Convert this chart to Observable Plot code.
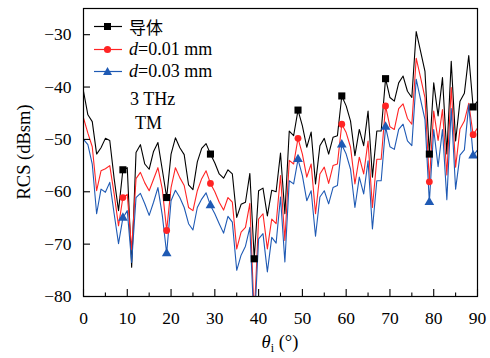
<!DOCTYPE html>
<html><head><meta charset="utf-8">
<script src="https://cdn.jsdelivr.net/npm/d3@7"></script>
<script src="https://cdn.jsdelivr.net/npm/@observablehq/plot@0.6"></script>
<style>
body{margin:0;background:#fff;}
#wrap{position:relative;width:490px;height:358px;font-family:"Liberation Serif","DejaVu Serif",serif;color:#000;}
.leg{position:absolute;left:94px;font-size:18px;line-height:21px;display:flex;align-items:center;white-space:nowrap;}
.leg svg{margin-right:7px;}
.note{position:absolute;font-size:18px;line-height:21px;white-space:nowrap;}
.ylab{position:absolute;left:24px;top:152px;transform:translate(-50%,-50%) rotate(-90deg);font-size:18.5px;white-space:nowrap;}
.xlab{position:absolute;left:280px;top:344px;transform:translate(-50%,-50%);font-size:18.5px;white-space:nowrap;}
</style></head><body><div id="wrap"></div>
<script>
const angles = d3.range(0, 91);
const conductor = [-40.8,-45.3,-46.6,-52.8,-51.6,-49.8,-50.2,-57.5,-63.6,-55.8,
  -55.4,-74.4,-52.5,-51.0,-54.7,-55.7,-52.3,-50.6,-55.8,-61.1,
  -52.8,-49.7,-51.6,-52.9,-58.7,-59.6,-54.3,-51.7,-50.8,-52.8,
  -54.5,-56.6,-57.4,-55.8,-56.6,-64.9,-62.4,-62.0,-56.5,-72.8,
  -59.8,-59.3,-64.6,-59.7,-60.0,-52.6,-64.2,-48.4,-49.3,-44.4,
  -47.4,-51.5,-48.6,-58.5,-51.2,-49.8,-52.8,-49.6,-49.3,-41.7,
  -43.6,-46.5,-53.1,-48.1,-51.2,-44.6,-57.2,-48.4,-48.4,-38.4,
  -42.0,-42.7,-39.2,-37.9,-40.8,-42.0,-29.4,-33.2,-37.0,-52.8,
  -39.2,-45.5,-38.2,-52.8,-35.1,-50.3,-42.7,-41.2,-34.0,-43.8,-42.7];
const d001 = [-45.9,-48.8,-51.4,-59.8,-56.0,-55.6,-55.0,-60.4,-66.5,-61.1,
  -60.5,-71.0,-57.5,-56.3,-58.3,-59.8,-57.6,-55.4,-59.5,-67.4,
  -59.2,-55.4,-57.3,-58.8,-63.0,-63.6,-59.8,-57.5,-56.0,-58.4,
  -60.0,-62.0,-63.5,-61.1,-62.0,-70.9,-67.7,-66.8,-62.2,-84.0,
  -65.2,-64.2,-70.9,-65.2,-66.1,-56.9,-69.3,-54.0,-54.7,-49.8,
  -52.8,-57.2,-54.7,-64.2,-56.6,-55.3,-58.4,-55.0,-54.7,-47.1,
  -48.7,-51.5,-58.5,-53.4,-56.6,-50.3,-63.0,-53.8,-53.8,-43.6,
  -47.6,-48.1,-44.1,-43.2,-46.0,-47.1,-34.5,-38.2,-42.0,-58.1,
  -44.6,-50.2,-44.3,-56.8,-40.1,-55.3,-48.0,-46.5,-43.1,-49.1,-47.8];
const d003 = [-50.0,-51.0,-54.7,-64.2,-59.5,-60.1,-58.2,-64.2,-69.9,-65.0,
  -63.6,-73.5,-61.1,-60.3,-62.3,-64.5,-62.0,-59.2,-64.5,-71.8,
  -61.7,-59.7,-61.1,-63.0,-66.1,-67.3,-63.0,-61.4,-60.2,-62.6,
  -64.2,-66.1,-67.9,-64.7,-65.8,-75.0,-72.1,-70.4,-66.8,-86.0,
  -69.0,-68.0,-75.3,-68.7,-69.8,-61.0,-73.4,-57.9,-58.5,-53.8,
  -56.9,-61.7,-59.8,-68.5,-61.0,-59.8,-62.3,-59.2,-58.8,-51.0,
  -52.8,-55.7,-63.0,-57.2,-60.4,-54.1,-67.1,-57.9,-57.9,-47.6,
  -51.4,-51.9,-48.1,-47.1,-50.3,-51.2,-38.5,-42.4,-46.2,-62.0,
  -48.1,-55.2,-48.1,-61.5,-44.1,-59.5,-53.0,-52.0,-43.4,-53.1,-52.0];
const seriesNames = ["导体", "d=0.01 mm", "d=0.03 mm"];
const seriesValues = [conductor, d001, d003];
const colors = ["#000000", "#ff2424", "#1f5ab4"];
const symbols = ["square", "circle", "triangle"];
const markerAngles = [9, 19, 29, 39, 49, 59, 69, 79, 89];
const xTicks = d3.range(0, 91, 10);
const xMinorTicks = d3.range(5, 90, 10);
const yTicks = [-80, -70, -60, -50, -40, -30];
const notes = ["3 THz", "TM"];

const rows = [];
seriesNames.forEach((s, i) => seriesValues[i].forEach((v, j) => rows.push({series: s, angle: angles[j], rcs: v})));
const markRows = rows.filter(r => markerAngles.includes(r.angle));
const sizes = [4, 3.4, 3.6];

const chart = Plot.plot({
  width: 490, height: 358,
  marginLeft: 83, marginRight: 13, marginTop: 8, marginBottom: 62,
  style: {fontFamily: "Liberation Serif, DejaVu Serif, serif", fontSize: "17.5px", color: "black", background: "white"},
  x: {domain: [0, 90], label: null},
  y: {domain: [-80, -25], label: null},
  color: {domain: seriesNames, range: colors},
  marks: [
    Plot.line(rows, {x: "angle", y: "rcs", z: "series", stroke: "series", strokeWidth: 1.1, clip: true}),
    ...seriesNames.map((s, i) => Plot.dot(markRows.filter(r => r.series === s), {x: "angle", y: "rcs", fill: colors[i], symbol: symbols[i], r: sizes[i], clip: true})),
    Plot.axisX({ticks: xTicks, tickSize: 0, tickPadding: 15, fontSize: 17.5}),
    Plot.axisX({ticks: xTicks, tickSize: -7, text: null, strokeWidth: 1.1}),
    Plot.axisX({ticks: xMinorTicks, tickSize: -3.5, text: null, strokeWidth: 1.1}),
    Plot.axisY({ticks: yTicks, tickSize: 0, tickPadding: 12, fontSize: 17.5}),
    Plot.axisY({ticks: yTicks, tickSize: -7, text: null, strokeWidth: 1.1}),
    Plot.frame({stroke: "black", strokeWidth: 1.2})
  ]
});
const wrap = document.getElementById("wrap");
wrap.appendChild(chart);

function swatch(color, symbol) {
  const shape = symbol === "square" ? `<rect x="10" y="3" width="7" height="7" fill="${color}"/>`
    : symbol === "circle" ? `<circle cx="13.5" cy="6.5" r="3.6" fill="${color}"/>`
    : `<path d="M13.5,2 L18,10 L9,10 Z" fill="${color}"/>`;
  return `<svg width="28" height="13"><line x1="0" y1="6.5" x2="28" y2="6.5" stroke="${color}" stroke-width="1.2"/>${shape}</svg>`;
}
const legTops = [15.5, 38.5, 60.5];
seriesNames.forEach((s, i) => {
  const div = document.createElement("div");
  div.className = "leg";
  div.style.top = legTops[i] + "px";
  const label = s.startsWith("d=") ? `<i>d</i>${s.slice(1)}` : `<span style="font-family:'Noto Sans CJK SC',sans-serif;font-size:17px">${s}</span>`;
  div.innerHTML = swatch(colors[i], symbols[i]) + label;
  wrap.appendChild(div);
});
const noteLeft = [130, 135], noteTop = [88.5, 112.5];
notes.forEach((t, i) => {
  const div = document.createElement("div");
  div.className = "note";
  div.style.left = noteLeft[i] + "px";
  div.style.top = noteTop[i] + "px";
  div.textContent = t;
  wrap.appendChild(div);
});
const yl = document.createElement("div"); yl.className = "ylab"; yl.textContent = "RCS (dBsm)"; wrap.appendChild(yl);
const xl = document.createElement("div"); xl.className = "xlab"; xl.innerHTML = "<i>θ</i><sub style='font-size:12px'>i</sub> (°)"; wrap.appendChild(xl);
</script></body></html>
